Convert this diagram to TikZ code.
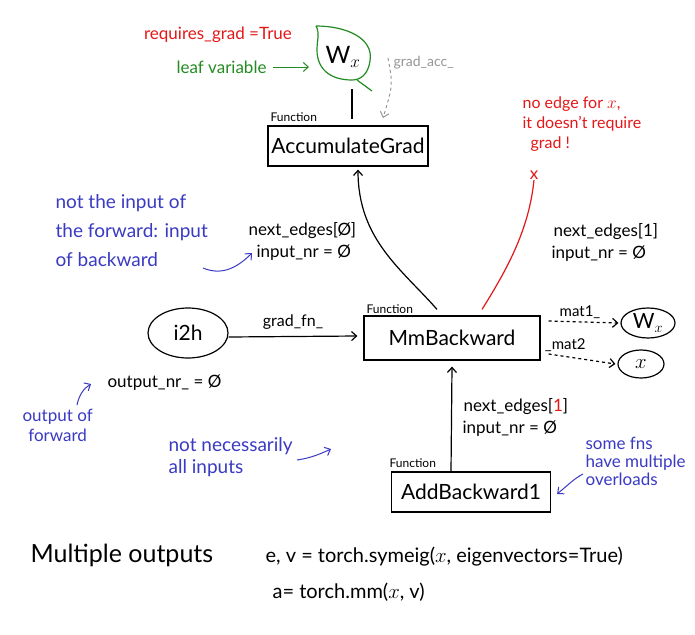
\documentclass[tikz,border=0pt]{standalone}
\usepackage{fontspec}
\setmainfont{Lato}
\usetikzlibrary{arrows.meta,shapes.geometric}
\definecolor{penred}{RGB}{228,24,24}
\definecolor{pengreen}{RGB}{34,140,34}
\definecolor{penblue}{RGB}{58,58,196}
\definecolor{pengray}{RGB}{150,150,150}
\begin{document}
\begin{tikzpicture}[x=1pt,y=-1pt, line width=1.2pt,
  >={Straight Barb[length=5pt,width=9pt]},
  fbox/.style={draw, minimum height=40pt, font=\fontsize{21}{24}\selectfont, inner sep=0pt},
  lbl/.style={font=\fontsize{17}{20}\selectfont, inner sep=0pt, anchor=west},
  note/.style={text=penblue, font=\fontsize{19}{29}\selectfont, align=left, inner sep=0pt, anchor=north west},
  fnlbl/.style={font=\fontsize{12}{14}\selectfont, inner sep=0pt, anchor=south west},
  oval/.style={draw, ellipse, inner sep=0pt, font=\fontsize{21}{24}\selectfont},
  bluearrow/.style={penblue, ->, line width=1pt}
]
\useasboundingbox[fill=white] (0,0) rectangle (695,634);

% ---- leaf W_x ----
\draw[pengreen, line width=1.2pt] (316,26) .. controls (346,26) and (374,38) .. (370,61)
   .. controls (368,75) and (360,80) .. (352,80)
   .. controls (329,80) and (317,68) .. (317,50)
   .. controls (317,40) and (320,33) .. (316,26);
\draw[pengreen, line width=1.2pt] (357,80) -- (372,91);
\node[inner sep=0pt, font=\fontsize{24}{26}\selectfont] (wx) at (343,57) {W$_{x}$};
\node[text=penred, font=\fontsize{17}{19}\selectfont, inner sep=0pt] (rg) at (218,35) {requires\_grad =True};
\node[text=pengreen, font=\fontsize{17}{19}\selectfont, inner sep=0pt, anchor=west] (lv) at (176,67) {leaf variable};
\coordinate (leafleft) at (309,67);
\draw[pengreen, ->, line width=1pt] (lv.east) ++(6,0) -- (leafleft);
\node[text=pengray, font=\fontsize{14}{16}\selectfont, inner sep=0pt, anchor=west] (ga) at (393,63) {grad\_acc\_};

% ---- AccumulateGrad ----
\node[fbox, minimum width=160pt] (acc) at (348,146) {AccumulateGrad};
\node[fnlbl] (accfn) at (270,122) {Function};
\coordinate (wxbot) at (352,89);
\coordinate (acctop) at (352,119);
\draw (wxbot) -- (acctop);
\coordinate (gastart) at (388,58);
\coordinate (gaend) at (383,118);
\draw[pengray, dashed, ->, line width=1pt] (gastart) .. controls (393,85) .. (gaend);

% ---- red note ----
\node[text=penred, font=\fontsize{16}{20}\selectfont, align=left, inner sep=0pt, anchor=north west] (noedge) at (522,96)
  {no edge for $x$,\\it doesn't require\\\hspace*{8pt}grad !};
\node[text=penred, font=\fontsize{17}{18}\selectfont, inner sep=0pt] (xmark) at (534,175) {x};

% ---- MmBackward ----
\node[fbox, minimum width=176pt, minimum height=44pt] (mm) at (452,338) {MmBackward};
\node[fnlbl] (mmfn) at (366,314) {Function};
\draw[->] ([xshift=-15pt,yshift=6pt]mm.north) .. controls +(-35,-40) and +(0,70) .. ([xshift=10pt,yshift=-3pt]acc.south);
\draw[penred] ([xshift=30pt,yshift=6pt]mm.north) .. controls +(25,-40) and +(-5,50) .. (xmark.south);

\node[lbl] (ne0) at (248,231) {next\_edges[Ø]};
\node[lbl] (in0) at (256,253) {input\_nr = Ø};
\node[lbl] (ne1) at (553,232) {next\_edges[1]};
\node[lbl] (in1) at (551,254) {input\_nr = Ø};

\node[note] (note1) at (55,194) {not the input of\\the forward: input\\of backward};
\coordinate (n1s) at (203,268);
\draw[bluearrow] (n1s) .. controls (220,275) and (235,270) .. ([xshift=-4pt]in0.west);

% ---- i2h ----
\node[oval, minimum width=80pt, minimum height=50pt] (i2h) at (188,333) {i2h};
\draw[->] ([yshift=-4pt]i2h.east) -- ([xshift=-6pt,yshift=2pt]mm.west) node[midway, above=6pt, inner sep=0pt, font=\fontsize{16}{18}\selectfont] (gfn) {grad\_fn\_};
\node[lbl] (onr) at (107,383) {output\_nr\_ = Ø};
\node[note, font=\fontsize{17}{20}\selectfont, align=center] (note2) at (22,409) {output of\\forward};
\coordinate (n2s) at (77,405);
\draw[bluearrow] (n2s) .. controls (79,395) and (84,388) .. ([xshift=-16pt,yshift=-1pt]onr.west);

% ---- outputs of MmBackward ----
\node[oval, minimum width=54pt, minimum height=30pt] (w2) at (648,323) {W$_{x}$};
\node[oval, minimum width=46pt, minimum height=28pt] (x2) at (641,364) {$x$};
\draw[dashed, ->] ([xshift=8pt,yshift=17pt]mm.east) -- ([xshift=-2pt]w2.west) node[pos=0.45, above=3pt, inner sep=0pt, font=\fontsize{15}{17}\selectfont] (mat1) {mat1\_};
\draw[dashed, ->] ([xshift=8pt,yshift=-16pt]mm.east) -- ([xshift=-2pt]x2.west) node[pos=0.25, above=4pt, inner sep=0pt, font=\fontsize{15}{17}\selectfont] (mat2) {\_mat2};

% ---- AddBackward1 ----
\node[fbox, minimum width=159pt] (add) at (471,492) {AddBackward1};
\node[fnlbl] (addfn) at (389,468) {Function};
\draw[->] ([xshift=-20pt]add.north) -- ([yshift=-6pt]mm.south);
\node[lbl] (ne2) at (463,407) {next\_edges[\textcolor{penred}{1}]};
\node[lbl] (in2) at (462,429) {input\_nr = Ø};

\node[note, font=\fontsize{19}{22}\selectfont] (note3) at (168,437) {not necessarily\\all inputs};
\coordinate (n3s) at (297,460);
\draw[bluearrow] (n3s) .. controls (310,458) and (318,455) .. (331,449);

\node[note, font=\fontsize{17}{18}\selectfont, align=left] (note4) at (585,437) {some fns\\have multiple\\overloads};
\coordinate (n4s) at (583,474);
\draw[bluearrow] (n4s) .. controls (575,478) and (568,485) .. ([xshift=6pt,yshift=-2pt]add.east);

% ---- bottom ----
\node[inner sep=0pt, anchor=west, font=\fontsize{25}{28}\selectfont] (mo) at (30,555) {Multiple outputs};
\node[inner sep=0pt, anchor=west, font=\fontsize{20}{24}\selectfont] (code1) at (265,557) {e, v = torch.symeig($x$, eigenvectors=True)};
\node[inner sep=0pt, anchor=west, font=\fontsize{20}{24}\selectfont] (code2) at (272,592) {a= torch.mm($x$, v)};
\end{tikzpicture}
\end{document}
